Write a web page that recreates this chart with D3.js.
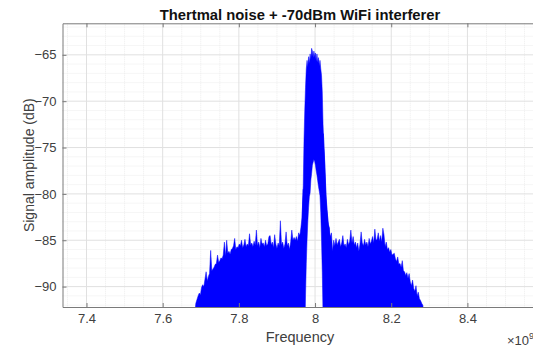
<!DOCTYPE html>
<html>
<head>
<meta charset="utf-8">
<script src="https://cdn.jsdelivr.net/npm/d3@7"></script>
<style>
  body { margin: 0; background: #fff; }
  text { font-family: "Liberation Sans", Arial, Helvetica, sans-serif; }
</style>
</head>
<body>
<div id="chart-1"></div>
<script>
// Set the dimensions of the chart
var width = 533;
var height = 349;
// axes box (right edge runs a little past the picture)
var margin = { top: 23.3, right: -4.5, bottom: 42, left: 62.5 };

// tick labels
const xTicks = [7.4, 7.6, 7.8, 8, 8.2, 8.4];
const yTicks = [-90, -85, -80, -75, -70, -65];

// left sideband of the noise (frequency in GHz, level in dB)
const leftFreq = [7.684, 7.687, 7.690, 7.693, 7.696, 7.699, 7.702, 7.705, 7.708, 7.711,
  7.714, 7.717, 7.720, 7.723, 7.726, 7.729, 7.732, 7.735, 7.738, 7.741,
  7.744, 7.747, 7.750, 7.753, 7.756, 7.759, 7.762, 7.765, 7.768, 7.771,
  7.774, 7.777, 7.780, 7.783, 7.786, 7.789, 7.792, 7.795, 7.798, 7.801,
  7.804, 7.807, 7.810, 7.813, 7.816, 7.819, 7.822, 7.825, 7.828, 7.831,
  7.834, 7.837, 7.840, 7.843, 7.846, 7.849, 7.852, 7.855, 7.858, 7.861,
  7.864, 7.867, 7.870, 7.873, 7.876, 7.879, 7.882, 7.885, 7.888, 7.891,
  7.894, 7.897, 7.900, 7.903, 7.906, 7.909, 7.912, 7.915, 7.918, 7.921,
  7.924, 7.927, 7.930, 7.933, 7.936, 7.939, 7.942, 7.945, 7.948, 7.951,
  7.954, 7.957, 7.960, 7.963, 7.966, 7.969];
const leftLevel = [-93.0, -91.8, -91.4, -91.0, -90.7, -90.9, -90.1, -89.8, -90.0, -89.2,
  -88.4, -89.4, -88.9, -88.6, -86.1, -88.3, -88.1, -87.9, -87.6, -87.5,
  -86.6, -87.4, -87.2, -86.9, -87.0, -86.6, -85.2, -86.7, -85.0, -86.4,
  -86.2, -86.5, -86.0, -85.9, -85.6, -84.8, -86.0, -85.7, -85.8, -85.4,
  -85.6, -85.0, -85.8, -85.5, -84.9, -85.7, -85.4, -85.6, -84.3, -85.5,
  -85.3, -85.7, -85.1, -85.5, -83.9, -85.6, -85.2, -85.8, -84.8, -85.4,
  -85.3, -85.7, -85.0, -85.6, -85.4, -84.6, -84.5, -85.5, -85.2, -85.8,
  -84.4, -85.4, -85.9, -85.3, -85.6, -82.9, -85.5, -85.2, -85.9, -85.4,
  -84.1, -85.6, -85.3, -86.0, -85.2, -83.9, -85.0, -84.7, -85.0, -84.6,
  -85.1, -84.2, -84.5, -83.6, -82.5, -79.5];

// interferer peak: upper and lower edge of the trace
const peakFreq = [7.966, 7.969, 7.971, 7.973, 7.975, 7.977, 7.979, 7.981, 7.983, 7.985,
  7.987, 7.989, 7.991, 7.993, 7.995, 7.997, 7.999, 8.001, 8.003, 8.005,
  8.007, 8.009, 8.011, 8.013, 8.015, 8.017, 8.019, 8.021, 8.023, 8.026,
  8.029, 8.032, 8.035, 8.038];
const peakTop = [-82.5, -79.1, -74.2, -71.0, -68.5, -66.5, -65.6, -66.3, -65.2, -65.9,
  -64.9, -65.5, -64.3, -64.6, -65.3, -64.6, -65.2, -64.8, -65.7, -64.9,
  -65.8, -65.3, -66.2, -65.6, -66.5, -67.2, -69.0, -72.5, -74.5, -77.0,
  -80.5, -82.0, -83.3, -83.7];
const peakBottom = [-100, -100, -100, -96, -91, -87.5, -85.0, -83.0, -81.5, -80.3,
  -79.9, -78.5, -77.8, -76.9, -76.6, -76.3, -76.5, -76.9, -77.5, -78.0,
  -78.6, -79.2, -79.7, -80.2, -82.0, -85.0, -88.5, -93, -100, -100,
  -100, -100, -100, -100];

// right sideband of the noise
const rightFreq = [8.022, 8.025, 8.028, 8.031, 8.034, 8.037, 8.040, 8.043, 8.046, 8.049,
  8.052, 8.055, 8.058, 8.061, 8.064, 8.067, 8.070, 8.073, 8.076, 8.079,
  8.082, 8.085, 8.088, 8.091, 8.094, 8.097, 8.100, 8.103, 8.106, 8.109,
  8.112, 8.115, 8.118, 8.121, 8.124, 8.127, 8.130, 8.133, 8.136, 8.139,
  8.142, 8.145, 8.148, 8.151, 8.154, 8.157, 8.160, 8.163, 8.166, 8.169,
  8.172, 8.175, 8.178, 8.181, 8.184, 8.187, 8.190, 8.193, 8.196, 8.199,
  8.202, 8.205, 8.208, 8.211, 8.214, 8.217, 8.220, 8.223, 8.226, 8.229,
  8.232, 8.235, 8.238, 8.241, 8.244, 8.247, 8.250, 8.253, 8.256, 8.259,
  8.262, 8.265, 8.268, 8.271, 8.274, 8.277, 8.280, 8.283, 8.286];
const rightLevel = [-73.5, -76.5, -79.5, -81.5, -83.0, -83.9, -84.6, -84.2, -86.2, -85.0,
  -85.6, -84.8, -85.5, -85.2, -84.9, -85.7, -85.3, -84.5, -85.6, -85.4,
  -85.8, -84.9, -85.5, -85.1, -83.9, -85.3, -84.6, -85.5, -85.2, -85.8,
  -85.3, -86.2, -85.4, -84.1, -85.3, -85.6, -84.9, -85.5, -85.2, -85.7,
  -84.8, -85.4, -85.1, -84.6, -85.3, -83.8, -85.0, -84.9, -84.2, -85.1,
  -84.5, -85.2, -83.7, -84.4, -85.7, -85.2, -86.0, -85.8, -86.3, -86.0,
  -86.6, -86.5, -86.4, -87.0, -87.3, -86.8, -87.6, -87.5, -87.9, -87.2,
  -88.3, -88.4, -88.8, -88.5, -89.1, -88.6, -89.5, -89.9, -89.3, -90.2,
  -90.5, -89.9, -91.0, -90.6, -91.3, -91.5, -91.8, -92.0, -93.0];

visualize();

function visualize() {
  let svg = d3.select("#chart-1")
    .append("svg")
    .attr("width", width)
    .attr("height", height)
    .style("display", "block");

  let innerW = width - margin.left - margin.right;
  let innerH = height - margin.top - margin.bottom;

  let g = svg.append("g")
    .attr("transform", "translate(" + margin.left + "," + margin.top + ")");

  let x = d3.scaleLinear().range([0, innerW]).domain([7.337, 8.584]);
  let y = d3.scaleLinear().range([innerH, 0]).domain([-92.2, -61.6]);

  // minor grid (dotted)
  let xMinor = d3.range(7.35, 8.6, 0.05).filter(v => !xTicks.some(t => Math.abs(t - v) < 1e-6));
  let yMinor = d3.range(-92, -61, 1).filter(v => !yTicks.some(t => Math.abs(t - v) < 1e-6));
  g.append("g").selectAll("line").data(xMinor).enter().append("line")
    .attr("x1", d => x(d)).attr("x2", d => x(d))
    .attr("y1", 0).attr("y2", innerH)
    .style("stroke", "#ececec").style("stroke-dasharray", "1,1");
  g.append("g").selectAll("line").data(yMinor).enter().append("line")
    .attr("x1", 0).attr("x2", innerW)
    .attr("y1", d => y(d)).attr("y2", d => y(d))
    .style("stroke", "#ececec").style("stroke-dasharray", "1,1");

  // major grid
  g.append("g").selectAll("line").data(xTicks).enter().append("line")
    .attr("x1", d => x(d)).attr("x2", d => x(d))
    .attr("y1", 0).attr("y2", innerH)
    .style("stroke", "#e0e0e0");
  g.append("g").selectAll("line").data(yTicks).enter().append("line")
    .attr("x1", 0).attr("x2", innerW)
    .attr("y1", d => y(d)).attr("y2", d => y(d))
    .style("stroke", "#e0e0e0");

  // clip the trace to the axes box
  svg.append("defs").append("clipPath").attr("id", "plot-clip")
    .append("rect").attr("width", innerW).attr("height", innerH);

  let trace = g.append("g").attr("clip-path", "url(#plot-clip)");

  let floorArea = d3.area()
    .x(d => x(d[0]))
    .y0(innerH + 2)
    .y1(d => y(d[1]));

  let bandArea = d3.area()
    .x(d => x(d[0]))
    .y0(d => y(d[2]))
    .y1(d => y(d[1]));

  trace.append("path")
    .attr("d", floorArea(leftFreq.map((f, i) => [f, leftLevel[i]])))
    .style("fill", "#0000ff").style("stroke", "#0000ff").style("stroke-width", 0.5);

  trace.append("path")
    .attr("d", bandArea(peakFreq.map((f, i) => [f, peakTop[i], peakBottom[i]])))
    .style("fill", "#0000ff").style("stroke", "#0000ff").style("stroke-width", 0.5);

  trace.append("path")
    .attr("d", floorArea(rightFreq.map((f, i) => [f, rightLevel[i]])))
    .style("fill", "#0000ff").style("stroke", "#0000ff").style("stroke-width", 0.5);

  // axes, ticks pointing inwards like matlab
  let axisColor = "#7a7a7a";
  let labelColor = "#404040";

  let xAxis = g.append("g")
    .attr("transform", "translate(0," + innerH + ")")
    .call(d3.axisBottom(x).tickValues(xTicks).tickFormat(d3.format("")).tickSizeInner(-4).tickSizeOuter(0).tickPadding(7));
  let xTop = g.append("g")
    .call(d3.axisTop(x).tickValues(xTicks).tickFormat("").tickSizeInner(-4).tickSizeOuter(0));
  let yAxis = g.append("g")
    .call(d3.axisLeft(y).tickValues(yTicks).tickSizeInner(-4).tickSizeOuter(0).tickPadding(6));

  [xAxis, xTop, yAxis].forEach(a => {
    a.select(".domain").style("stroke", axisColor);
    a.selectAll(".tick line").style("stroke", axisColor);
    a.selectAll("text")
      .style("font-family", "'Liberation Sans', Arial, sans-serif")
      .style("font-size", "13px")
      .style("fill", labelColor);
  });

  // title
  svg.append("text")
    .attr("text-anchor", "middle")
    .attr("x", 300)
    .attr("y", 20)
    .style("font-size", "14.8px")
    .style("font-weight", "bold")
    .style("fill", "#111")
    .text("Thertmal noise + -70dBm WiFi interferer");

  // X-axis label
  svg.append("text")
    .attr("text-anchor", "middle")
    .attr("x", 300)
    .attr("y", 342)
    .style("font-size", "14.5px")
    .style("fill", labelColor)
    .text("Frequency");

  // Y-axis label
  svg.append("text")
    .attr("text-anchor", "middle")
    .attr("transform", "rotate(-90)")
    .attr("x", -(margin.top + innerH / 2))
    .attr("y", 33.5)
    .style("font-size", "14px")
    .style("fill", labelColor)
    .text("Signal amplitude (dB)");

  // exponent of the x axis (cut by the picture edge)
  let expo = svg.append("text")
    .attr("x", 507)
    .attr("y", 345)
    .style("font-size", "13px")
    .style("fill", labelColor);
  expo.append("tspan").text("\u00d710");
  expo.append("tspan").attr("dy", -6).style("font-size", "9px").text("9");
}
</script>
</body>
</html>
